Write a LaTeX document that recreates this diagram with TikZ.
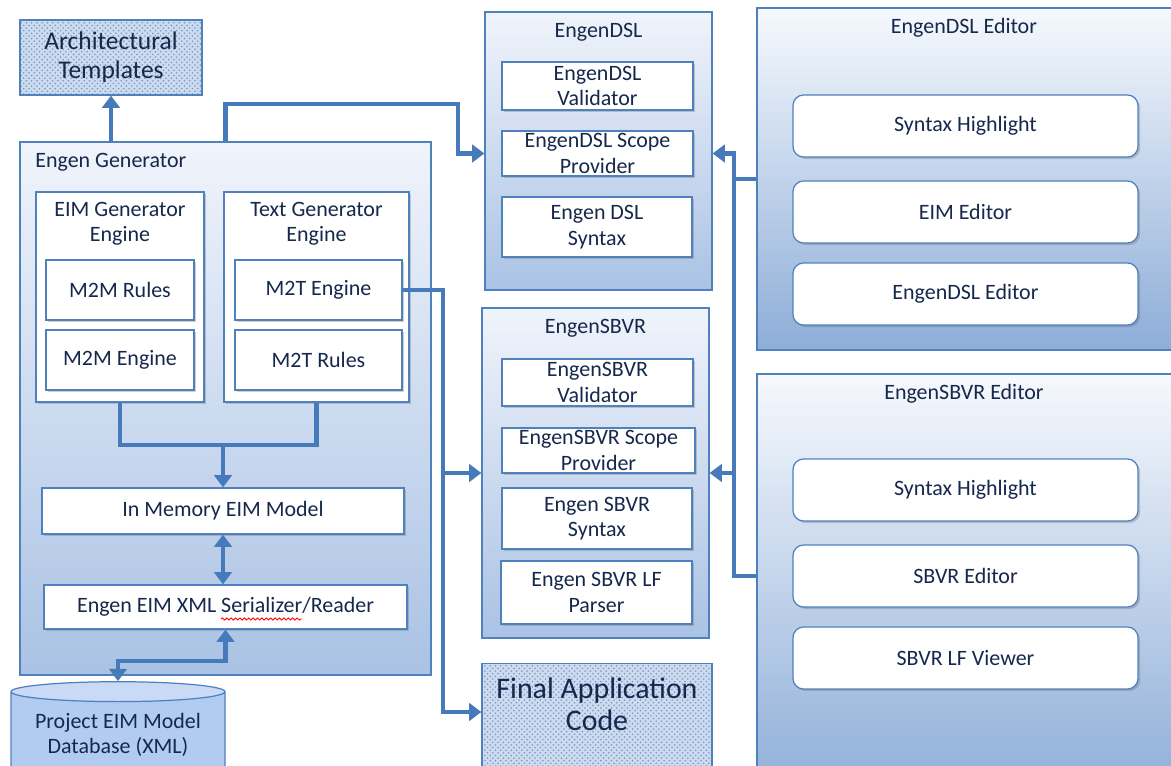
\documentclass[tikz,border=0pt]{standalone}
\usepackage{fontspec}
\setmainfont{Carlito}
\usetikzlibrary{arrows.meta,shapes.geometric,shadows,patterns,decorations.pathmorphing}
\definecolor{edge}{RGB}{79,129,189}
\definecolor{wire}{RGB}{71,122,186}
\definecolor{ink}{RGB}{22,40,76}
\definecolor{paneltop}{RGB}{240,244,251}
\definecolor{panelbot}{RGB}{170,194,228}
\definecolor{edtop}{RGB}{246,249,253}
\definecolor{edbot}{RGB}{141,173,216}
\definecolor{dotfill}{RGB}{205,219,239}
\definecolor{dotink}{RGB}{120,150,200}
\definecolor{dbbody}{RGB}{178,203,240}
\definecolor{dbend}{RGB}{200,218,245}

\begin{document}
\begin{tikzpicture}[x=0.02cm,y=-0.02cm,
  every node/.style={font=\fontsize{12.5}{14.5}\selectfont,text=ink,align=center},
  sz/.style 2 args={minimum width=#1*0.02cm,minimum height=#2*0.02cm,inner sep=0pt},
  panel/.style={draw=edge,line width=0.7pt,top color=paneltop,bottom color=panelbot},
  editor/.style={draw=edge,line width=0.7pt,top color=edtop,bottom color=edbot},
  part/.style={draw=edge,line width=0.7pt,fill=white,
    drop shadow={shadow xshift=1.2pt,shadow yshift=-1.2pt,opacity=0.3,fill=black!60}},
  tool/.style={part,rounded corners=6pt},
  dotted box/.style={draw=edge,line width=0.7pt,preaction={fill=dotfill},
    pattern=crosshatch dots,pattern color=dotink},
  db/.style={cylinder,shape border rotate=90,aspect=0.12,draw=edge,line width=0.7pt,
    cylinder uses custom fill,cylinder body fill=dbbody,cylinder end fill=dbend},
  wire/.style={draw=wire,line width=2.3pt},
  arr/.style={wire,-{Triangle[width=10pt,length=7pt]}},
  both/.style={wire,{Triangle[width=10pt,length=7pt]}-{Triangle[width=10pt,length=7pt]}}]
\useasboundingbox (0,0) rectangle (1171,766);
\clip (0,0) rectangle (1171,766);

% generator
\node[dotted box,sz={182}{75},font=\fontsize{14.5}{16.5}\selectfont] (arch) at (111,57.5) {Architectural\\Templates};
\node[panel,sz={411}{533}] (gen) at (225.5,408.5) {};
\node[anchor=west,inner sep=0pt] (gent) at (35,162) {Engen Generator};
\node[part,sz={168}{210}] (eimg) at (120,297) {};
\node (eimgt) at (120,224) {EIM Generator\\Engine};
\node[part,sz={148}{60}] (m2mr) at (120,290) {M2M Rules};
\node[part,sz={148}{60}] (m2me) at (120,360) {M2M Engine};
\node[part,sz={185}{210}] (txtg) at (316.5,297) {};
\node (txtgt) at (316.5,224) {Text Generator\\Engine};
\node[part,sz={167}{60}] (m2te) at (318.5,290) {M2T Engine};
\node[part,sz={167}{60}] (m2tr) at (318.5,360) {M2T Rules};
\node[part,sz={362}{46}] (mem) at (223,511) {In Memory EIM Model};
\node[part,sz={363}{44}] (ser) at (225.5,607) {Engen EIM XML Serializer/Reader};
\draw[red,line width=0.5pt,decorate,decoration={snake,amplitude=0.6pt,segment length=2.5pt}]
  (221,619) -- (302,619);
\node[db,sz={214}{96}] (db) at (118,735) {Project EIM Model\\Database (XML)};

% engen dsl
\node[panel,sz={227}{278}] (dsl) at (598.5,151) {};
\node (dslt) at (598.5,32) {EngenDSL};
\node[part,sz={191}{48}] (dslval) at (597.5,86) {EngenDSL\\Validator};
\node[part,sz={191}{45}] (dslsc) at (597.5,153.5) {EngenDSL Scope\\Provider};
\node[part,sz={190}{60}] (dslsyn) at (597,227) {Engen DSL\\Syntax};

% engen sbvr
\node[panel,sz={227}{330}] (sbvr) at (595.5,473) {};
\node (sbvrt) at (595.5,328) {EngenSBVR};
\node[part,sz={191}{47}] (sbval) at (597.5,382.5) {EngenSBVR\\Validator};
\node[part,sz={193}{45}] (sbsc) at (598.5,450.5) {EngenSBVR Scope\\Provider};
\node[part,sz={190}{61}] (sbsyn) at (597,518.5) {Engen SBVR\\Syntax};
\node[part,sz={191}{63}] (sblf) at (596.5,592.5) {Engen SBVR LF\\Parser};
\node[dotted box,sz={230}{130},anchor=north] (fin) at (597,663) {};
\node[font=\fontsize{17}{18.5}\selectfont] (fint) at (597,704) {Final Application\\Code};

% editors
\node[editor,sz={433}{342}] (dsled) at (973.5,179) {};
\node (dsledt) at (964,28) {EngenDSL Editor};
\node[tool,sz={345}{62}] (hl1) at (965.5,126) {Syntax Highlight};
\node[tool,sz={345}{62}] (eimed) at (965.5,212) {EIM Editor};
\node[tool,sz={345}{62}] (dsle) at (965.5,294) {EngenDSL Editor};
\node[editor,sz={433}{426}] (sbed) at (973.5,587) {};
\node (sbedt) at (964,394) {EngenSBVR Editor};
\node[tool,sz={345}{62}] (hl2) at (965.5,490) {Syntax Highlight};
\node[tool,sz={345}{62}] (sbvre) at (965.5,576) {SBVR Editor};
\node[tool,sz={345}{62}] (lfv) at (965.5,658) {SBVR LF Viewer};

\coordinate (up) at (458,104);
\coordinate (mg) at (224,445);
\coordinate (tb) at (443,712);
\coordinate (eb) at (734,0);

% connectors
\draw[arr] (arch.south |- gen.north) -- (arch.south);
\draw[arr] (gen.north) -- (gen.north |- up) -- (up) -- (up |- dslsc) -- (dsl.west |- dslsc);
\draw[wire] (eimg.south) |- (mg) -| (txtg.south);
\draw[arr] (mem.north |- mg) -- (mem.north);
\draw[both] (mem.south) -- (mem.south |- ser.north);
\draw[both] (ser.south) -- ++(0,31) -| (db.north);
\draw[arr] (m2te.east) -| (tb) -- (fin.west |- tb);
\draw[arr] (tb |- sbvr) -- (sbvr.west);
\draw[arr] (dsled.west) -- (dsled.west -| eb) -- (eb |- dslsc) -- (dsl.east |- dslsc);
\draw[wire] (dsled.west -| eb) -- (eb |- sbvr);
\draw[arr] (sbed.west |- sbvre) -- (eb |- sbvre) -- (eb |- sbvr) -- (sbvr.east);
\end{tikzpicture}
\end{document}
